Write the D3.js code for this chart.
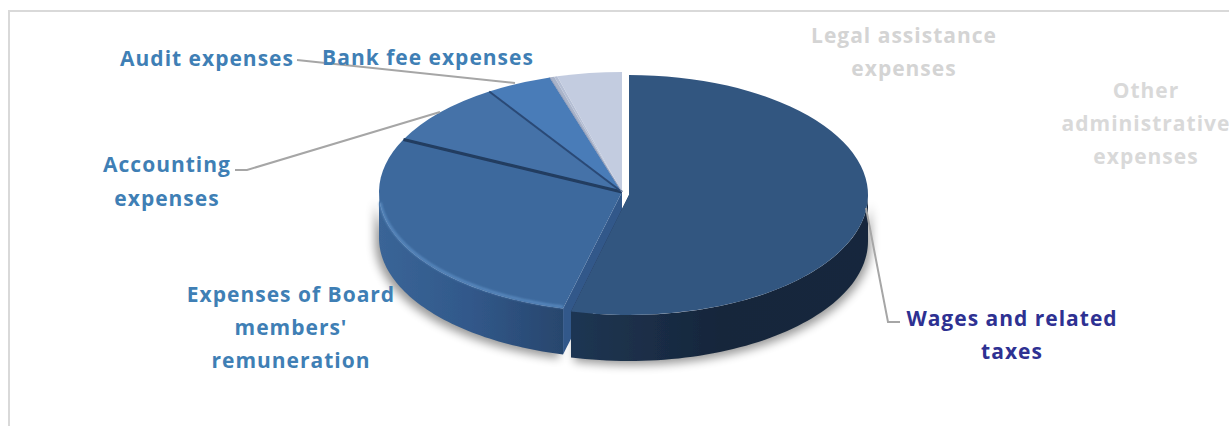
<!DOCTYPE html>
<html>
<head>
<meta charset="utf-8">
<script src="https://cdnjs.cloudflare.com/ajax/libs/d3/7.8.5/d3.min.js"></script>
<style>
html,body{margin:0;padding:0;background:#fff;overflow:hidden}
svg{display:block}
text{font-family:"Open Sans",sans-serif;font-weight:700;font-size:21px;letter-spacing:1px;text-anchor:middle}
</style>
</head>
<body>
<script>
var categories = ['Wages and related taxes',"Expenses of Board members' remuneration",'Accounting expenses','Audit expenses','Bank fee expenses','Legal assistance expenses','Other administrative expenses'];
var values = [53.9,28.3,8.6,4.4,0.3,0.2,4.3];

var labelLines = [['Wages and related','taxes'],['Expenses of Board',"members'",'remuneration'],['Accounting','expenses'],['Audit expenses'],['Bank  fee expenses'],['Legal assistance','expenses'],['Other','administrative','expenses']];
var labelX = [1012,291,167,207,428,904,1146];
var labelY = [[326,359],[302,335,368],[172,206],[66],[65],[43,76],[98,131,164]];
var labelColors = ['#2e3192','#3f7fb5','#3f7fb5','#3f7fb5','#3f7fb5','#d4d4d4','#d9d9d9'];
var topColors = ['#335680','#3d699d','#4472a8','#4a7cb8','#a9b3c9','#b4bed4','#c3cce0'];

var width = 1229, height = 426;
var rx = 243, wagesRx = 239, ry = 120, depth = 46;
var cx = 622, cy = 192;

var svg = d3.select('body').append('svg').attr('width',width).attr('height',height);
var defs = svg.append('defs');

var shadow = defs.append('filter').attr('id','shadow').attr('x','-10%').attr('y','-10%').attr('width','120%').attr('height','130%');
shadow.append('feGaussianBlur').attr('stdDeviation',5);
var soft = defs.append('filter').attr('id','soft');
soft.append('feGaussianBlur').attr('stdDeviation',0.6);
var softer = defs.append('filter').attr('id','softer');
softer.append('feGaussianBlur').attr('stdDeviation',1.2);

function sideGradient(id,stops){
	var g = defs.append('linearGradient').attr('id',id).attr('x1','0').attr('x2','1').attr('y1','0').attr('y2','0');
	stops.forEach(function(s){ g.append('stop').attr('offset',s[0]).attr('stop-color',s[1]); });
}
sideGradient('wagesSide',[[0,'#1f3653'],[0.5,'#16263b'],[1,'#16283c']]);
sideGradient('boardSide',[[0,'#3a6597'],[0.5,'#31588a'],[1,'#28466d']]);

// frame
svg.append('path').attr('d','M9,426V11H1229').attr('fill','none').attr('stroke','#d9d9d9').attr('stroke-width',2);

var pie = d3.pie().sort(null).value(function(d){return d;});
var arcs = pie(values);
var arc = d3.arc().innerRadius(0).outerRadius(rx);

// c is [centre x, centre y, horizontal radius]
function px(a,c){ return c[0]+c[2]*Math.sin(a); }
function py(a,c){ return c[1]-ry*Math.cos(a); }

// outer wall between two angles
function wallPath(a0,a1,c){
	var steps = d3.range(0,61).map(function(i){ return a0+(a1-a0)*i/60; });
	var top = steps.map(function(a){ return [px(a,c),py(a,c)]; });
	var bottom = steps.slice().reverse().map(function(a){ return [px(a,c),py(a,c)+depth]; });
	return d3.line()(top.concat(bottom))+'Z';
}

var mainC = [cx,cy,rx];
var wagesC = [cx+7,cy+3,wagesRx];
var wages = arcs[0], board = arcs[1];
var frontStart = Math.PI/2;

// soft shadow below the pie
svg.append('path').attr('d',wallPath(frontStart,wages.endAngle,[wagesC[0]+3,wagesC[1]+4,wagesRx])).attr('fill','#000').attr('opacity',0.4).attr('filter','url(#shadow)');
svg.append('path').attr('d',wallPath(board.startAngle,3*Math.PI/2,[mainC[0]-4,mainC[1]+4,rx])).attr('fill','#000').attr('opacity',0.4).attr('filter','url(#shadow)');

var pieG = svg.append('g').attr('filter','url(#soft)');

// board wall
pieG.append('path').attr('d',wallPath(board.startAngle,3*Math.PI/2,mainC)).attr('fill','url(#boardSide)');
// board cut face, seen through the gap left by the pulled out slice
var rimX = px(board.startAngle,mainC), rimY = py(board.startAngle,mainC);
pieG.append('path').attr('d',d3.line()([[cx,cy],[rimX,rimY],[rimX,rimY+depth],[cx,cy+depth]])+'Z').attr('fill','#33588a');

// top faces of the main group
arcs.slice(1).forEach(function(d,i){
	pieG.append('path')
		.attr('transform','translate('+cx+','+cy+') scale(1,'+(ry/rx)+')')
		.attr('d',arc(d))
		.attr('fill',topColors[i+1]);
});

// bevel on the board rim, stops short of the far left
var bevelEnd = 3*Math.PI/2-0.1;
var rimPts = d3.range(0,61).map(function(i){
	var a = board.startAngle+(bevelEnd-board.startAngle)*i/60;
	return [px(a,mainC),py(a,mainC)-1.5];
});
pieG.append('path').attr('d',d3.line()(rimPts)).attr('fill','none').attr('stroke','#5a8ac0').attr('stroke-width',2.5).attr('filter','url(#softer)');

// slice separators
[[1,3,'#223c60'],[2,2,'#2a4a76'],[3,1,'#8f9cb8']].forEach(function(s){
	var a = arcs[s[0]].endAngle;
	pieG.append('line').attr('x1',cx).attr('y1',cy).attr('x2',px(a,mainC)).attr('y2',py(a,mainC))
		.attr('stroke',s[2]).attr('stroke-width',s[1]);
});

// wages slice, pulled out
pieG.append('path').attr('d',d3.line()([wagesC,[px(wages.endAngle,wagesC),py(wages.endAngle,wagesC)],[px(wages.endAngle,wagesC),py(wages.endAngle,wagesC)+depth],[wagesC[0],wagesC[1]+depth]])+'Z').attr('fill','#1f3653');
pieG.append('path').attr('d',wallPath(frontStart,wages.endAngle,wagesC)).attr('fill','url(#wagesSide)');
pieG.append('path')
	.attr('transform','translate('+wagesC[0]+','+wagesC[1]+') scale('+(wagesRx/rx)+','+(ry/rx)+')')
	.attr('d',arc(wages))
	.attr('fill',topColors[0]);

// leader lines
var leaders = [
	[[866,208],[888,322],[900,322]],
	[[235,170],[247,170],[440,112]],
	[[297,60],[515,83]]
];
leaders.forEach(function(l){
	svg.append('path').attr('d',d3.line()(l)).attr('fill','none').attr('stroke','#a6a6a6').attr('stroke-width',2);
});

// labels
categories.forEach(function(c,i){
	var t = svg.append('text').attr('fill',labelColors[i]);
	labelLines[i].forEach(function(line,j){
		t.append('tspan').attr('x',labelX[i]).attr('y',labelY[i][j]).text(line);
	});
});
</script>
</body>
</html>
